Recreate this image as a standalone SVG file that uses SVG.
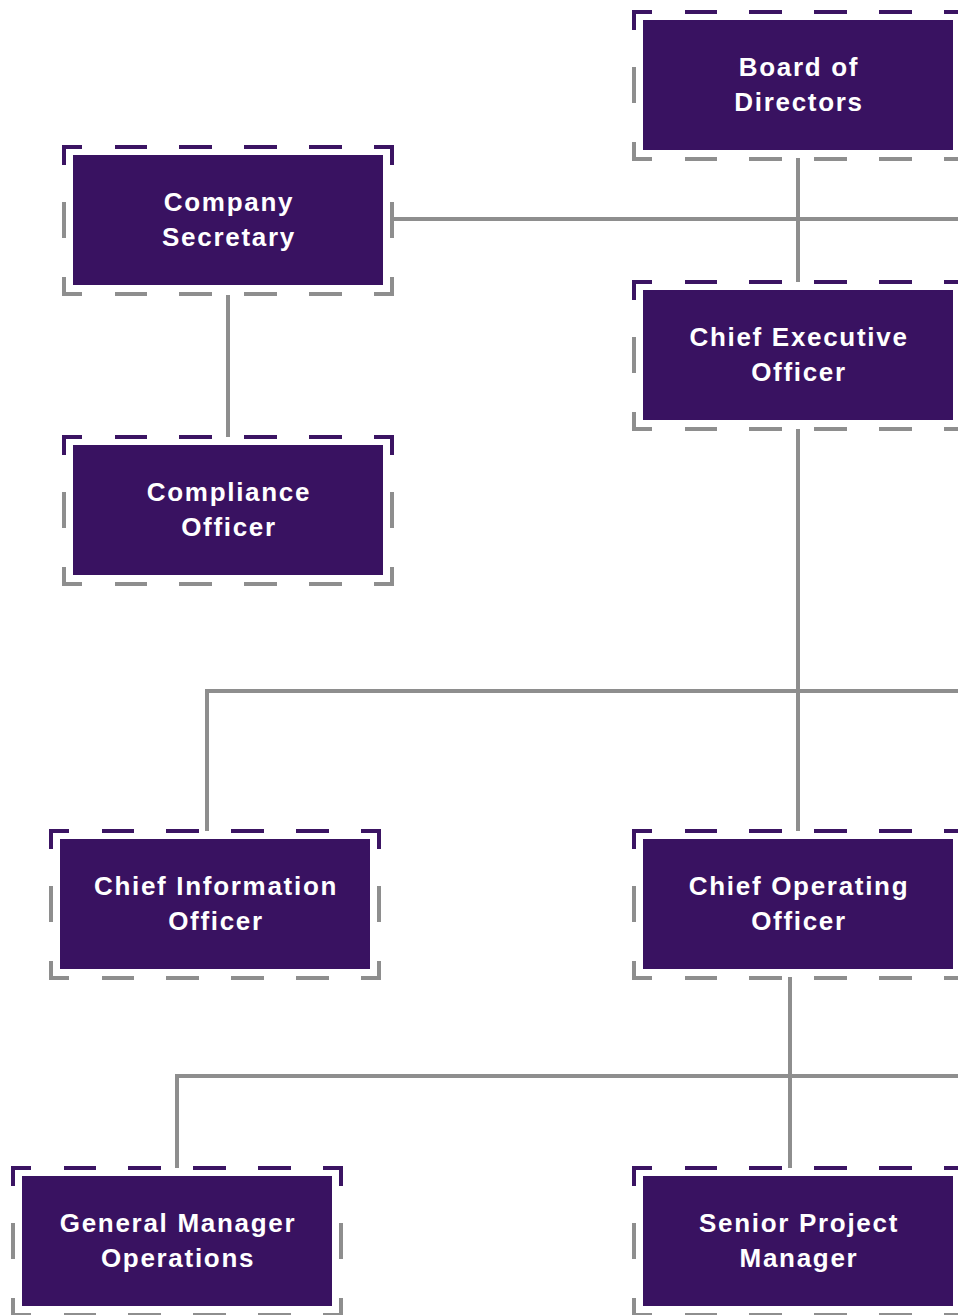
<svg xmlns="http://www.w3.org/2000/svg" xmlns:xlink="http://www.w3.org/1999/xlink" width="958" height="1315" viewBox="0 0 958 1315">
<style>
.box{fill:#391261}
.fp{fill:none;stroke:#3b1463;stroke-width:4;stroke-linejoin:miter}
.fg{fill:none;stroke:#8e8e8e;stroke-width:4;stroke-linejoin:miter}
.lbl{fill:#ffffff;font-family:"Liberation Sans",Arial,sans-serif;font-size:26px;font-weight:bold;letter-spacing:1.7px;text-anchor:middle}
.conn{fill:none;stroke:#8e8e8e;stroke-width:4}
</style>
<defs>
<g id="frame">
<path class="fp" d="M-9,10 V-8 H9 M42,-8 H74 M106,-8 H139 M171,-8 H204 M236,-8 H269 M301,-8 H319 V10"/>
<path class="fg" d="M-9,47 V83 M319,47 V83 M-9,122 V139 H9 M42,139 H74 M106,139 H139 M171,139 H204 M236,139 H269 M301,139 H319 V122"/>
<rect class="box" x="0" y="0" width="310" height="130"/>
</g>
</defs>
<g id="connectors">
<path class="conn" d="M798,158 V282"/>
<path class="conn" d="M394,219 H958"/>
<path class="conn" d="M228,295 V437"/>
<path class="conn" d="M798,429 V831"/>
<path class="conn" d="M207,831 V691 H958"/>
<path class="conn" d="M790,977 V1168"/>
<path class="conn" d="M177,1168 V1076 H958"/>
</g>
<g id="board" transform="translate(643,20)">
<use xlink:href="#frame"/>
<text class="lbl" x="156" y="56">Board of</text>
<text class="lbl" x="156" y="91">Directors</text>
</g>
<g id="secretary" transform="translate(73,155)">
<use xlink:href="#frame"/>
<text class="lbl" x="156" y="56">Company</text>
<text class="lbl" x="156" y="91">Secretary</text>
</g>
<g id="ceo" transform="translate(643,290)">
<use xlink:href="#frame"/>
<text class="lbl" x="156" y="56">Chief Executive</text>
<text class="lbl" x="156" y="91">Officer</text>
</g>
<g id="compliance" transform="translate(73,445)">
<use xlink:href="#frame"/>
<text class="lbl" x="156" y="56">Compliance</text>
<text class="lbl" x="156" y="91">Officer</text>
</g>
<g id="cio" transform="translate(60,839)">
<use xlink:href="#frame"/>
<text class="lbl" x="156" y="56">Chief Information</text>
<text class="lbl" x="156" y="91">Officer</text>
</g>
<g id="coo" transform="translate(643,839)">
<use xlink:href="#frame"/>
<text class="lbl" x="156" y="56">Chief Operating</text>
<text class="lbl" x="156" y="91">Officer</text>
</g>
<g id="gm-ops" transform="translate(22,1176)">
<use xlink:href="#frame"/>
<text class="lbl" x="156" y="56">General Manager</text>
<text class="lbl" x="156" y="91">Operations</text>
</g>
<g id="spm" transform="translate(643,1176)">
<use xlink:href="#frame"/>
<text class="lbl" x="156" y="56">Senior Project</text>
<text class="lbl" x="156" y="91">Manager</text>
</g>
</svg>
